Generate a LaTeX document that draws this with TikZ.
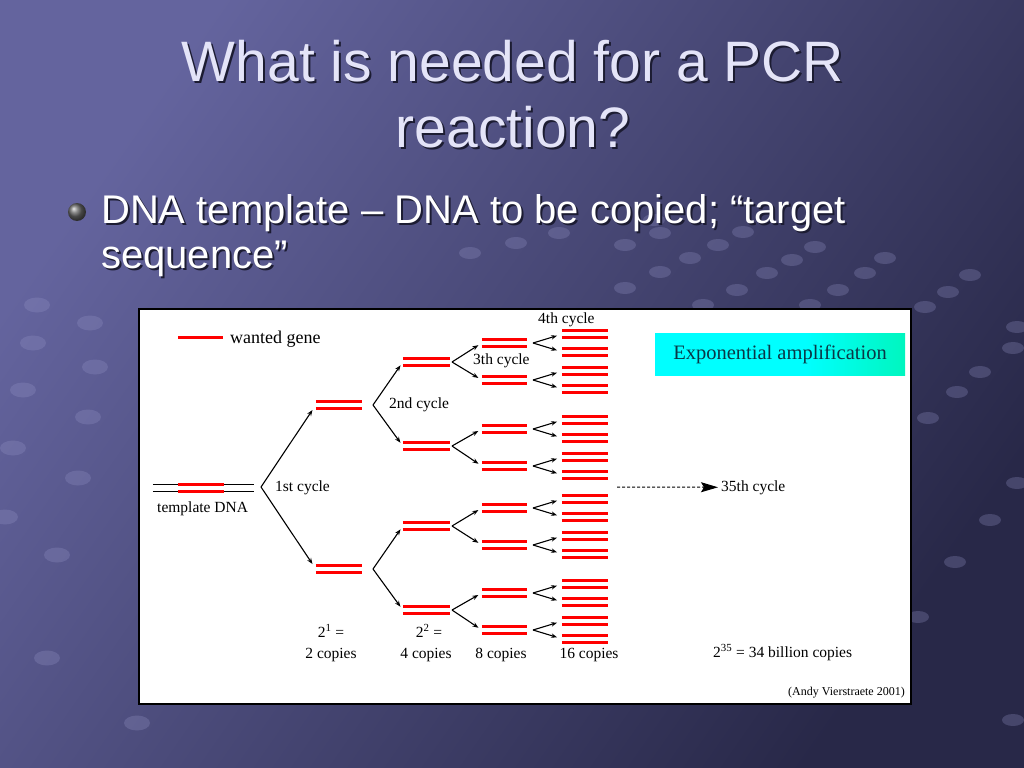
\documentclass[tikz,border=0pt]{standalone}
\usepackage{fontspec}
\setmainfont{Liberation Serif}
\newfontfamily\arialf{Liberation Sans}
\usetikzlibrary{arrows.meta}
\definecolor{bgA}{RGB}{100,100,158}
\definecolor{bgB}{RGB}{40,40,72}
\definecolor{dotc}{RGB}{150,150,200}
\definecolor{titlec}{RGB}{228,228,248}
\definecolor{shadowc}{RGB}{28,28,50}
\definecolor{expgreen}{RGB}{0,235,110}
\definecolor{exptext}{RGB}{10,55,70}
\pgfdeclarehorizontalshading{expshade}{100bp}{color(0bp)=(cyan); color(55bp)=(cyan); color(100bp)=(expgreen)}
\newcommand\dnapair[4]{%
  \node[pairnode,minimum width=#4] (#1) at (#2,#3) {};
  \draw[redl] (#1.north west) -- (#1.north east);
  \draw[redl] (#1.south west) -- (#1.south east);}
\begin{document}
\begin{tikzpicture}[x=1bp,y=-1bp,
  redl/.style={red,line width=3bp},
  arr/.style={-{Stealth[length=6bp,width=4.5bp]},line width=1.1bp,draw=black},
  lbl/.style={font=\fontsize{15.5bp}{18bp}\selectfont,inner sep=0,anchor=base west,text=black},
  lblc/.style={font=\fontsize{15.5bp}{18bp}\selectfont,inner sep=0,anchor=base,text=black},
  pairnode/.style={minimum height=7bp,inner sep=0,draw=none},
  dotn/.style={fill=dotc,opacity=0.28},
  ttl/.style={font=\arialf\fontsize{57bp}{65bp}\selectfont,inner sep=0,anchor=base},
  bul/.style={font=\arialf\fontsize{40bp}{45bp}\selectfont,inner sep=0,anchor=base west}]
\useasboundingbox (0,0) rectangle (1024,768);
% background
\shade[left color=bgA,right color=bgB,shading angle=55] (0,0) rectangle (1024,768);
% decorative dots
\foreach \px/\py in {660/233,743/232,625/245,718/245,815/247,690/258,792/260,885/258,
  660/272,767/273,865/273,970/275,625/288,737/290,838/290,948/292,703/305,810/305,925/307,
  1017/327,1013/348,980/372,957/392,928/418,1017/483,990/520,955/562,918/617,1013/720,
  470/253,516/243,559/233,654/220}
  {\fill[dotn] (\px,\py) ellipse (11bp and 6bp);}
\foreach \px/\py in {37/305,90/323,33/343,95/367,23/390,88/417,13/448,78/478,5/517,57/555,47/658,137/723}
  {\fill[dotn] (\px,\py) ellipse (13bp and 7.5bp);}
% title
\node[ttl,text=shadowc] (t1s) at (515,84) {What is needed for a PCR};
\node[ttl,text=titlec] (t1) at (513,82) {What is needed for a PCR};
\node[ttl,text=shadowc] (t2s) at (515,149) {reaction?};
\node[ttl,text=titlec] (t2) at (513,147) {reaction?};
% bullet
\shade[ball color=gray!80!black] (77,212) circle (9bp);
\node[bul,text=shadowc] (b1s) at (103,225) {DNA template – DNA to be copied; “target};
\node[bul,text=white] (b1) at (101,223) {DNA template – DNA to be copied; “target};
\node[bul,text=shadowc] (b2s) at (103,270) {sequence”};
\node[bul,text=white] (b2) at (101,268) {sequence”};
% picture frame
\draw[fill=white,draw=black,line width=2.5bp] (139,309) rectangle (911,704);
% legend
\coordinate (lg1) at (178,337);
\coordinate (lg2) at (223,337);
\draw[redl] (lg1) -- (lg2);
\node[lbl,font=\fontsize{18bp}{20bp}\selectfont] (wanted) at (230,343) {wanted gene};
% template DNA
\node[pairnode,minimum width=101bp,minimum height=6bp] (tmpl) at (203.5,488) {};
\draw[line width=1.1bp] (tmpl.north west) -- (tmpl.north east);
\draw[line width=1.1bp] (tmpl.south west) -- (tmpl.south east);
\draw[redl] ([xshift=25bp]tmpl.north west) -- ([xshift=71bp]tmpl.north west);
\draw[redl] ([xshift=25bp]tmpl.south west) -- ([xshift=71bp]tmpl.south west);
\node[lbl] (tlabel) at (157,512) {template DNA};
% level 1
\dnapair{p1a}{339}{405}{46bp}
\dnapair{p1b}{339}{569}{46bp}
\coordinate (v0) at (261,487);
\draw[arr,shorten >=6bp] (v0) -- (p1a.west);
\draw[arr,shorten >=6bp] (v0) -- (p1b.west);
\node[lbl] (c1) at (275,491) {1st cycle};
% level 2
\foreach \n/\c in {a/362,b/446,c/526,d/610}{\dnapair{p2\n}{426.5}{\c}{47bp}}
\coordinate (v1a) at (373,405);
\coordinate (v1b) at (373,569);
\draw[arr,shorten >=4bp] (v1a) -- (p2a.west);
\draw[arr,shorten >=4bp] (v1a) -- (p2b.west);
\draw[arr,shorten >=4bp] (v1b) -- (p2c.west);
\draw[arr,shorten >=4bp] (v1b) -- (p2d.west);
\node[lbl] (c2) at (389,408) {2nd cycle};
% level 3
\foreach \n/\c in {a/343,b/380,c/429,d/466,e/508,f/545,g/593,h/630}{\dnapair{p3\n}{504.5}{\c}{45bp}}
\foreach \v/\c/\x/\y in {a/362/a/b,b/446/c/d,c/526/e/f,d/610/g/h}{
  \coordinate (v2\v) at (452,\c);
  \draw[arr,shorten >=4bp] (v2\v) -- (p3\x.west);
  \draw[arr,shorten >=4bp] (v2\v) -- (p3\y.west);}
\node[lbl] (c3) at (473,364) {3th cycle};
% level 4
\foreach \n/\c in {a/343,b/380,c/429,d/466,e/508,f/545,g/593,h/630}{
  \dnapair{p4\n1}{585}{\c-8.75}{46bp}
  \dnapair{p4\n2}{585}{\c+8.75}{46bp}
  \coordinate (v3\n) at (533,\c);
  \draw[arr,shorten >=5bp] (v3\n) -- (p4\n1.west);
  \draw[arr,shorten >=5bp] (v3\n) -- (p4\n2.west);}
\node[lbl] (c4) at (538,323) {4th cycle};
% 35th cycle
\node[lbl] (c35) at (721,491) {35th cycle};
\coordinate (dstart) at (617,487);
\draw[draw=black,line width=1bp,dash pattern=on 3bp off 2bp,-{Stealth[length=17bp,width=10bp,inset=3bp]},shorten >=3bp] (dstart) -- (c35.west);
% exponential box
\node[shading=expshade,minimum width=250bp,minimum height=42bp,inner sep=0,
  font=\fontsize{20.5bp}{23bp}\selectfont,text=exptext] (expbox) at (780,354) {Exponential amplification};
% copies labels
\node[lblc] (e1) at (331,637) {2\textsuperscript{1} =};
\node[lblc] (n1) at (331,658) {2 copies};
\node[lblc] (e2) at (429,637) {2\textsuperscript{2} =};
\node[lblc] (n2) at (426,658) {4 copies};
\node[lblc] (n3) at (501,658) {8 copies};
\node[lblc] (n4) at (589,658) {16 copies};
\node[lbl] (e35) at (713,657) {2\textsuperscript{35} = 34 billion copies};
\node[inner sep=0,anchor=base east,text=black,font=\fontsize{12bp}{14bp}\selectfont] (credit) at (905,695) {(Andy Vierstraete 2001)};
\end{tikzpicture}
\end{document}
